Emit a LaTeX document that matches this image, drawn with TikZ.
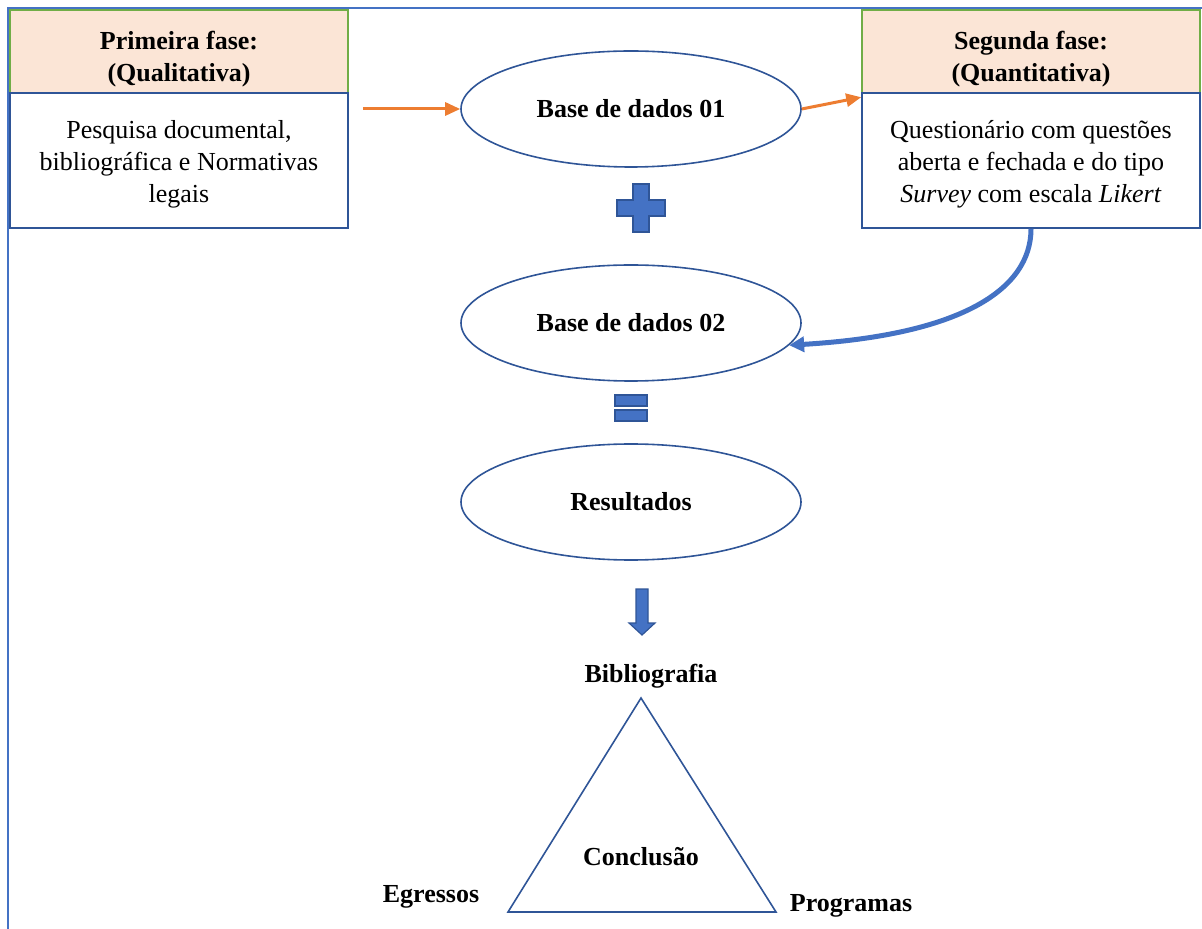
\documentclass[tikz,border=0pt]{standalone}
\usepackage{fontspec}
\setmainfont{Liberation Serif}
\usetikzlibrary{arrows.meta,shapes.geometric}
\definecolor{peach}{HTML}{FBE5D6}
\definecolor{hdrgreen}{HTML}{70AD47}
\definecolor{darkblue}{HTML}{2F5597}
\definecolor{midblue}{HTML}{4472C4}
\definecolor{arrorange}{HTML}{ED7D31}
\begin{document}
\begin{tikzpicture}[x=0.5pt,y=-0.5pt,
    font=\fontsize{13}{16}\selectfont,
    hdr/.style={draw=hdrgreen, line width=0.8pt, fill=peach, minimum width=169pt,
      minimum height=41.5pt, align=center, text height=30.5pt, text depth=0pt,
      font=\fontsize{13}{16}\selectfont\bfseries},
    body/.style={draw=darkblue, line width=0.8pt, fill=white, minimum width=169pt,
      minimum height=67.5pt, align=center, text height=42pt, text depth=0pt},
    base/.style={ellipse, draw=darkblue, line width=0.8pt, minimum width=170pt,
      minimum height=58pt, font=\fontsize{13}{16}\selectfont\bfseries},
    lbl/.style={font=\fontsize{13}{16}\selectfont\bfseries},
    sign/.style={fill=midblue, draw=darkblue, line width=0.6pt},
    orangearrow/.style={draw=arrorange, line width=1.5pt, -{Triangle[length=7.5pt,width=6.5pt]}},
    bluearrow/.style={draw=midblue, line width=2.5pt, -{Triangle[length=7.5pt,width=7.5pt]}}]
  \useasboundingbox (0,0) rectangle (1202,929);

  % draw outer frame
  \draw[midblue, line width=1pt] (8,929) -- (8,8) -- (1202,8);

  % draw phase boxes
  \node[hdr] (lhdr) at (179,51.5) {Primeira fase:\\(Qualitativa)};
  \node[body] (lbody) at (179,160.5) {Pesquisa documental,\\bibliográfica e Normativas\\legais};
  \node[hdr] (rhdr) at (1031,51.5) {Segunda fase:\\(Quantitativa)};
  \node[body] (rbody) at (1031,160.5) {Questionário com questões\\aberta e fechada e do tipo\\\textit{Survey} com escala \textit{Likert}};

  % draw data bases
  \node[base] (db1) at (631,109) {Base de dados 01};
  \node[base] (db2) at (631,323) {Base de dados 02};
  \node[base] (res) at (631,502) {Resultados};

  % draw arrows
  \draw[orangearrow, shorten <=7pt] (lbody.east |- db1.west) -- (db1.west);
  \draw[orangearrow] (db1.east) -- ([yshift=-2.5pt]rbody.north west);
  \draw[bluearrow] (rbody.south) .. controls (1031,290) and (960,335) .. (db2.-8);

  % draw plus, equal and down arrow
  \draw[sign] (633,184) -- (649,184) -- (649,200) -- (665,200) -- (665,216) -- (649,216)
    -- (649,232) -- (633,232) -- (633,216) -- (617,216) -- (617,200) -- (633,200) -- cycle;
  \draw[sign] (615,395) rectangle (647,406);
  \draw[sign] (615,410) rectangle (647,421);
  \draw[sign] (636,589) -- (648,589) -- (648,623) -- (655,623) -- (642,635) -- (629,623)
    -- (636,623) -- cycle;

  % draw triangle and labels
  \draw[darkblue, line width=0.8pt] (641,698) -- (776,912) -- (508,912) -- cycle;
  \node[lbl] (bib) at (651,676) {Bibliografia};
  \node[lbl] (concl) at (641,857) {Conclusão};
  \node[lbl] (egr) at (431,897) {Egressos};
  \node[lbl] (prog) at (851,906) {Programas};
\end{tikzpicture}
\end{document}
